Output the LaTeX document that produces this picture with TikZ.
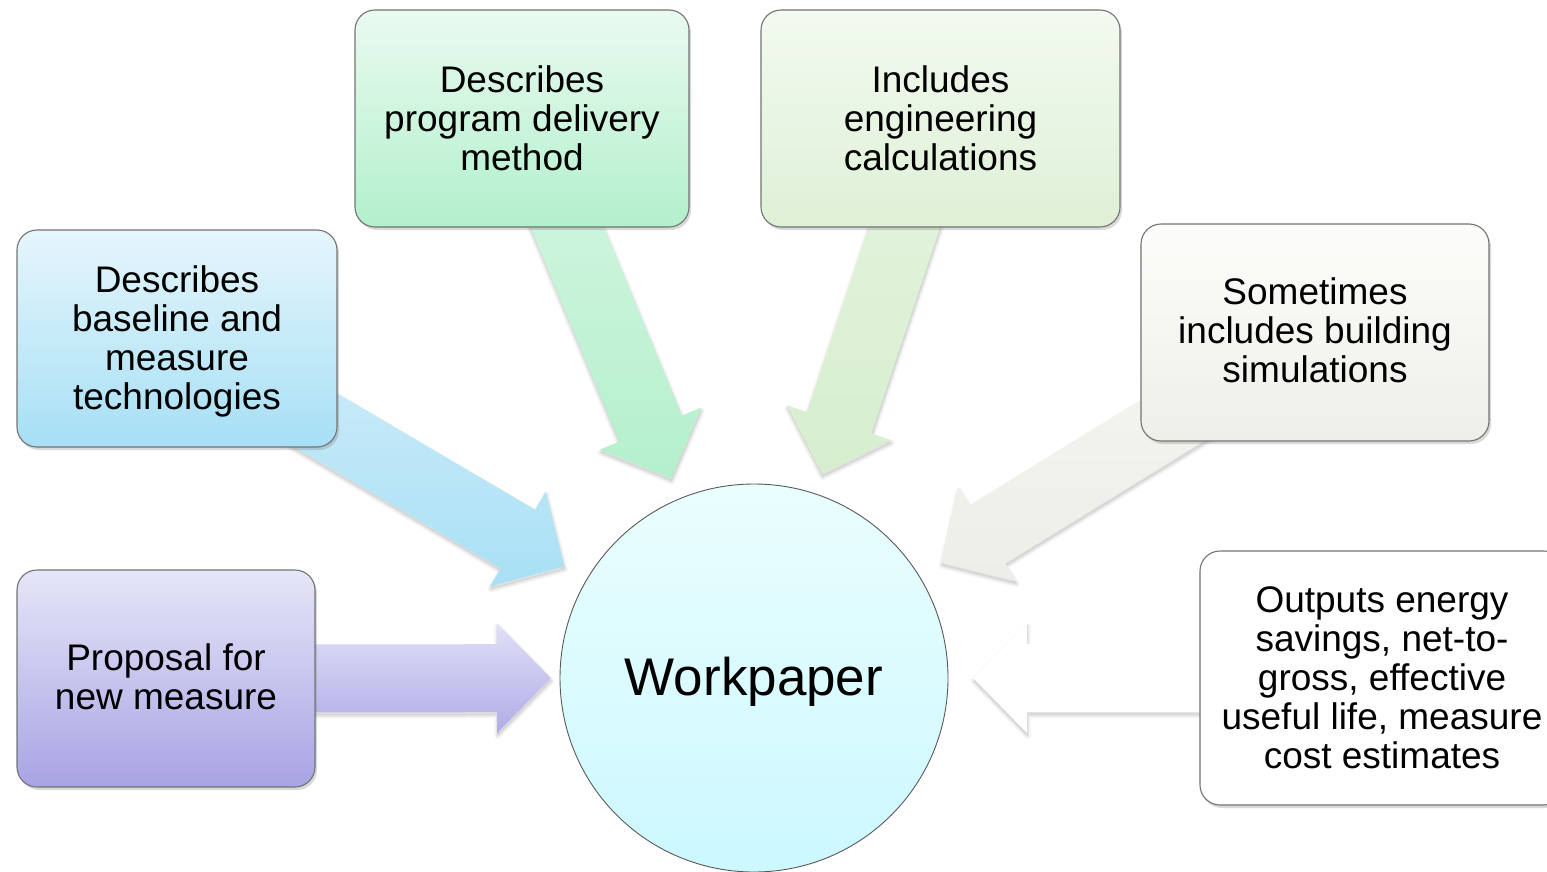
\documentclass[tikz,border=0pt]{standalone}
\usepackage{fontspec}
\setmainfont{Liberation Sans}
\usetikzlibrary{calc,shadows,backgrounds}
\definecolor{blueTop}{RGB}{230,246,252}
\definecolor{blueBot}{RGB}{166,223,245}
\definecolor{purTop}{RGB}{230,230,248}
\definecolor{purBot}{RGB}{168,164,228}
\definecolor{gOneTop}{RGB}{234,250,240}
\definecolor{gOneBot}{RGB}{178,240,204}
\definecolor{gTwoTop}{RGB}{243,250,240}
\definecolor{gTwoBot}{RGB}{222,240,214}
\definecolor{grTop}{RGB}{252,252,250}
\definecolor{grBot}{RGB}{239,239,233}
\definecolor{cirTop}{RGB}{234,254,254}
\definecolor{cirBot}{RGB}{204,248,255}
\definecolor{aBlueTop}{RGB}{212,238,250}
\definecolor{aBlueBot}{RGB}{168,224,245}
\definecolor{aPurTop}{RGB}{224,224,247}
\definecolor{aPurBot}{RGB}{176,172,230}
\definecolor{aGOneTop}{RGB}{216,246,228}
\definecolor{aGOneBot}{RGB}{180,240,204}
\definecolor{aGTwoTop}{RGB}{230,245,224}
\definecolor{aGTwoBot}{RGB}{214,238,206}
\definecolor{aGrTop}{RGB}{246,246,242}
\definecolor{aGrBot}{RGB}{238,238,232}
\newcommand{\fatarrow}[4]{%
  \coordinate (ArP) at ($(#3.center)!#4!(#2.center)$);
  \coordinate (ArB) at ($(ArP)!54pt!(#2.center)$);
  \path[#1] ($(#2.center)!34pt!90:(ArP)$) -- ($(ArB)!34pt!90:(ArP)$)
    -- ($(ArB)!55pt!90:(ArP)$) -- (ArP) -- ($(ArB)!55pt!-90:(ArP)$)
    -- ($(ArB)!34pt!-90:(ArP)$) -- ($(#2.center)!34pt!-90:(ArP)$) -- cycle;
}
\begin{document}
\begin{tikzpicture}[x=1pt,y=-1pt,
  box/.style={rectangle, rounded corners=20pt, draw=black!55, line width=1.1pt,
    align=center, inner sep=0pt, minimum height=217pt,
    font=\fontsize{37}{39}\selectfont,
    drop shadow={shadow xshift=2pt,shadow yshift=-3pt,opacity=0.3}},
  arr/.style={
    drop shadow={shadow xshift=0.5pt,shadow yshift=-3pt,opacity=0.04,draw=black,line width=6pt,line join=round},
    drop shadow={shadow xshift=0.5pt,shadow yshift=-3pt,opacity=0.06,draw=black,line width=3pt,line join=round},
    drop shadow={shadow xshift=0.5pt,shadow yshift=-2.5pt,opacity=0.08}},
  hub/.style={circle, draw=black!65, line width=0.9pt, minimum size=388pt, inner sep=0pt,
    font=\fontsize{53}{60}\selectfont, top color=cirTop, bottom color=cirBot}]
\useasboundingbox (0,0) rectangle (1547,872);
\node[hub, text depth=3pt] (wp) at (754,678) {Workpaper};
\node[box, minimum width=320pt, text depth=2pt, top color=blueTop, bottom color=blueBot] (base) at (177,338.5)
  {Describes\\baseline and\\measure\\technologies};
\node[box, minimum width=298pt, text depth=4pt, top color=purTop, bottom color=purBot] (prop) at (166,678.5)
  {Proposal for\\new measure};
\node[box, minimum width=334pt, top color=gOneTop, bottom color=gOneBot] (deliv) at (522,118.5)
  {Describes\\program delivery\\method};
\node[box, minimum width=359pt, top color=gTwoTop, bottom color=gTwoBot] (eng) at (940.5,118.5)
  {Includes\\engineering\\calculations};
\node[box, minimum width=348pt, text depth=4pt, top color=grTop, bottom color=grBot] (sim) at (1315,332.5)
  {Sometimes\\includes building\\simulations};
\node[box, minimum width=364pt, minimum height=254pt, fill=white] (out) at (1382,678)
  {Outputs energy\\savings, net-to-\\gross, effective\\useful life, measure\\cost estimates};
\begin{pgfonlayer}{background}
  \fatarrow{arr, top color=aBlueTop, bottom color=aBlueBot}{base}{wp}{220pt}
  \fatarrow{arr, top color=aPurTop, bottom color=aPurBot}{prop}{wp}{203pt}
  \fatarrow{arr, top color=aGOneTop, bottom color=aGOneBot}{deliv}{wp}{216pt}
  \fatarrow{arr, top color=aGTwoTop, bottom color=aGTwoBot}{eng}{wp}{215pt}
  \fatarrow{arr, top color=aGrTop, bottom color=aGrBot}{sim}{wp}{220pt}
  \fatarrow{arr, fill=white}{out}{wp}{219pt}
\end{pgfonlayer}
\end{tikzpicture}
\end{document}
